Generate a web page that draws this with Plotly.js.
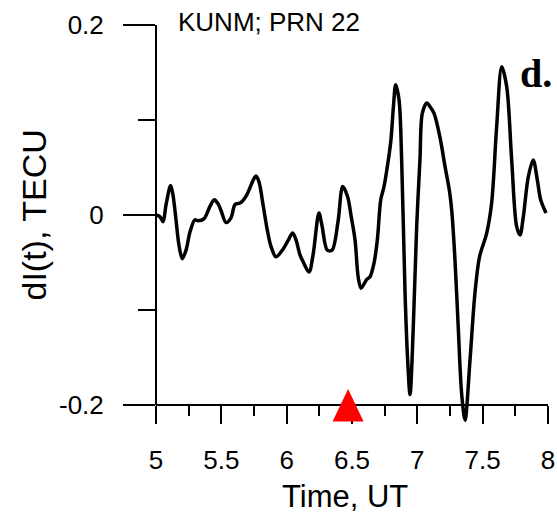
<!DOCTYPE html>
<html>
<head>
<meta charset="utf-8">
<script src="https://cdn.plot.ly/plotly-3.0.1.min.js"></script>
<style>html,body{margin:0;padding:0;background:#fff;}#chart{width:557px;height:515px;}</style>
</head>
<body>
<div id="chart"></div>
<script>
// Time, UT (hours)
const timeUT = [5.000,5.031,5.054,5.077,5.112,5.130,5.153,5.176,5.201,5.230,5.260,5.298,5.321,5.367,5.413,5.446,5.474,5.497,5.536,5.574,5.605,5.648,5.694,5.745,5.765,5.788,5.819,5.852,5.880,5.918,5.972,6.010,6.046,6.071,6.102,6.125,6.171,6.202,6.247,6.270,6.311,6.347,6.393,6.429,6.467,6.492,6.523,6.548,6.569,6.612,6.638,6.668,6.694,6.720,6.745,6.778,6.798,6.818,6.834,6.860,6.880,6.906,6.926,6.944,6.969,6.995,7.020,7.038,7.072,7.097,7.128,7.173,7.212,7.245,7.263,7.288,7.313,7.339,7.365,7.403,7.441,7.476,7.531,7.569,7.607,7.646,7.684,7.722,7.760,7.786,7.811,7.849,7.887,7.918,7.944,7.985];
// dI(t), TECU
const dI = [0.000,-0.002,-0.007,0.011,0.031,0.021,-0.005,-0.032,-0.046,-0.037,-0.018,-0.005,-0.006,-0.004,0.009,0.016,0.012,0.005,-0.008,-0.003,0.011,0.013,0.021,0.037,0.041,0.035,0.011,-0.016,-0.033,-0.044,-0.036,-0.027,-0.019,-0.026,-0.042,-0.049,-0.060,-0.042,0.002,-0.011,-0.037,-0.037,-0.007,0.030,0.019,0.000,-0.026,-0.066,-0.077,-0.068,-0.065,-0.051,-0.026,0.016,0.030,0.058,0.079,0.116,0.137,0.121,0.058,-0.082,-0.153,-0.189,-0.118,-0.012,0.058,0.107,0.118,0.114,0.107,0.082,0.051,0.026,0.005,-0.047,-0.118,-0.188,-0.216,-0.153,-0.082,-0.044,-0.019,0.013,0.093,0.156,0.135,0.058,-0.012,-0.021,-0.002,0.040,0.058,0.037,0.016,0.002];
// event marker (time, UT)
const eventTime = [6.47];
const eventLevel = [-0.2];
const stationLabel = "KUNM; PRN 22";
const panelLabel = "d.";
const xTitle = "Time, UT";
const yTitle = "dI(t), TECU";
const xTickVals = [5, 5.5, 6, 6.5, 7, 7.5, 8];
const xTickText = ["5", "5.5", "6", "6.5", "7", "7.5", "8"];
const yTickVals = [-0.2, 0, 0.2];
const yTickText = ["-0.2", "0", "0.2"];
const yMin = -0.2, yMax = 0.2, xMin = 5, xMax = 8;

const font = "Arial, 'Liberation Sans', sans-serif";
// layout geometry (pixels)
const plotH = 410, extraBelow = 30;            // plot area extends 30 px below the -0.2 axis so the curve can dip past it
const pxPerUnit = (plotH - extraBelow) / (yMax - yMin);

const traces = [{
  x: timeUT, y: dI, type: "scatter", mode: "lines",
  line: {color: "#000", width: 3.5, shape: "spline", smoothing: 0.9},
  hoverinfo: "skip"
}];

const layout = {
  width: 557, height: 515,
  margin: {l: 156, r: 9, t: 25, b: 80},
  paper_bgcolor: "#fff", plot_bgcolor: "#fff",
  showlegend: false,
  font: {family: font, color: "#000", size: 26},
  xaxis: {
    range: [xMin, xMax], showgrid: false, zeroline: false,
    anchor: "free", position: extraBelow / plotH,
    showline: true, linecolor: "#000", linewidth: 2,
    tickmode: "array", tickvals: xTickVals, ticktext: xTickText,
    ticks: "outside", ticklen: 18, tickwidth: 2, tickcolor: "#000",
    ticklabelstandoff: 14,
    minor: {dtick: 0.25, tick0: xMin, ticks: "outside", ticklen: 10, tickwidth: 2, tickcolor: "#000"},
    tickfont: {family: font, size: 26, color: "#000"}
  },
  yaxis: {
    range: [yMin - extraBelow / pxPerUnit, yMax], showgrid: false, zeroline: false,
    showline: false,
    tickmode: "array", tickvals: yTickVals, ticktext: yTickText,
    ticks: "outside", ticklen: 32, tickwidth: 2, tickcolor: "#000",
    ticklabelstandoff: 14,
    minor: {dtick: 0.1, tick0: yMin, ticks: "outside", ticklen: 17, tickwidth: 2, tickcolor: "#000"},
    tickfont: {family: font, size: 26, color: "#000"}
  },
  annotations: [
    {text: stationLabel, xref: "paper", yref: "paper", x: 0.051, y: 1.0073, xanchor: "left", yanchor: "middle",
     showarrow: false, font: {family: font, size: 26, color: "#000"}},
    {text: "<b>" + panelLabel + "</b>", xref: "paper", yref: "paper", x: 0.923, y: 0.9415, xanchor: "left", yanchor: "top",
     showarrow: false, font: {family: "'Liberation Serif', 'Times New Roman', serif", size: 40, color: "#000"}},
    {text: xTitle, xref: "paper", yref: "paper", x: 0.4834, y: (435 - 497) / plotH, xanchor: "center", yanchor: "middle",
     showarrow: false, font: {family: font, size: 31, color: "#000"}},
    {text: yTitle, xref: "paper", yref: "y", x: (33.5 - 156) / 392, y: (yMin + yMax) / 2, xanchor: "center", yanchor: "middle",
     textangle: -90, showarrow: false, font: {family: font, size: 34, color: "#000"}}
  ],
  shapes: [
    {type: "line", xref: "paper", yref: "y", x0: 0, x1: 0, y0: yMin, y1: yMax, line: {color: "#000", width: 2}, layer: "above"}
  ].concat(eventTime.map((t, i) => ({
    type: "path", xref: "x", yref: "y", xsizemode: "pixel", ysizemode: "pixel",
    xanchor: t, yanchor: eventLevel[i],
    path: "M-15.5,-16.5 L15.5,-16.5 L0,16 Z",
    fillcolor: "#ff0000", line: {width: 0}, layer: "above"
  })))
};

Plotly.newPlot("chart", traces, layout, {staticPlot: true, displayModeBar: false});
</script>
</body>
</html>
